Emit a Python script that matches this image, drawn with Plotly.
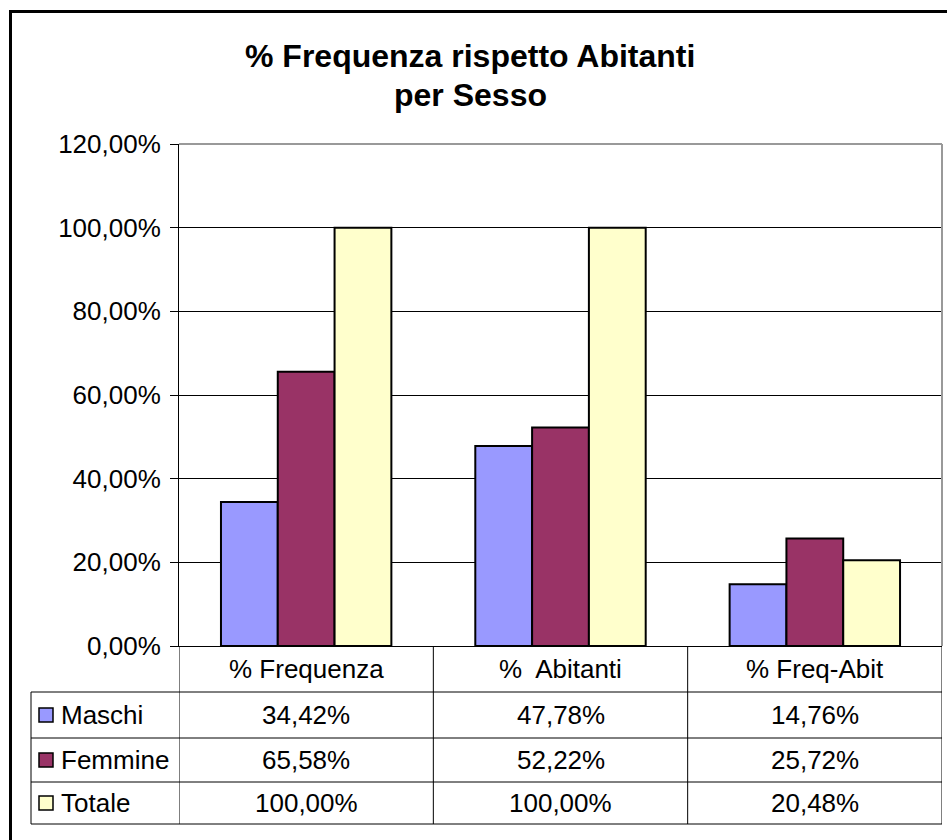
import plotly.graph_objects as go

CATEGORIES = ["% Frequenza", "%\u00a0 Abitanti", "% Freq-Abit"]
SERIES = ["Maschi", "Femmine", "Totale"]
MASCHI = [34.42, 47.78, 14.76]
FEMMINE = [65.58, 52.22, 25.72]
TOTALE = [100.00, 100.00, 20.48]
COLORS = ["#9999FF", "#993366", "#FFFFCC"]
TITLE_LINES = ["% Frequenza rispetto Abitanti", "per Sesso"]

W, H = 947, 840
L, R, T, B = 179, 942, 144, 646   # plot area in pixels
FONT = "Liberation Sans, Arial, sans-serif"

# table row edges in pixels (header row then one row per series)
ROW_EDGES = [646, 692, 738, 782, 824]
TABLE_LEFT = 31


def px_x(x):
    return (x - L) / (R - L)


def px_y(y):
    return (B - y) / (B - T)


def pct(v):
    return f"{v:.2f}".replace(".", ",") + "%"


values = [MASCHI, FEMMINE, TOTALE]

fig = go.Figure()
for name, vals, col in zip(SERIES, values, COLORS):
    fig.add_trace(go.Bar(
        x=list(range(len(CATEGORIES))), y=vals, name=name,
        marker=dict(color=col, line=dict(color="black", width=2)),
        hoverinfo="skip",
    ))

shapes = []
annotations = []

# outer chart border (right/bottom fall outside the picture)
shapes.append(dict(type="rect", xref="paper", yref="paper",
                   x0=px_x(10.5), x1=px_x(W + 20), y0=px_y(11.5), y1=px_y(H + 20),
                   line=dict(color="black", width=3), layer="below"))

# grey plot-area border on top and right
shapes.append(dict(type="line", xref="paper", yref="paper", x0=0, x1=1, y0=1, y1=1,
                   line=dict(color="#999999", width=2), layer="above"))
shapes.append(dict(type="line", xref="paper", yref="paper", x0=1, x1=1, y0=0, y1=1,
                   line=dict(color="#999999", width=2), layer="above"))

# title, two centred bold lines
for text, y in zip(TITLE_LINES, [56, 95]):
    annotations.append(dict(xref="paper", yref="paper", x=px_x(470), y=px_y(y),
                            text=f"<b>{text}</b>", showarrow=False,
                            font=dict(family=FONT, size=32, color="black"),
                            xanchor="center", yanchor="middle"))

line = dict(color="black", width=1)
n = len(CATEGORIES)
# horizontal table lines (the top one is the x axis itself)
for y in ROW_EDGES[1:]:
    shapes.append(dict(type="line", xref="paper", yref="paper",
                       x0=px_x(TABLE_LEFT), x1=1, y0=px_y(y), y1=px_y(y), line=line))
# vertical table lines
for k in range(n + 1):
    shapes.append(dict(type="line", xref="x", yref="paper",
                       x0=k - 0.5, x1=k - 0.5, y0=px_y(ROW_EDGES[0]), y1=px_y(ROW_EDGES[-1]),
                       line=line))
shapes.append(dict(type="line", xref="paper", yref="paper",
                   x0=px_x(TABLE_LEFT), x1=px_x(TABLE_LEFT),
                   y0=px_y(ROW_EDGES[1]), y1=px_y(ROW_EDGES[-1]), line=line))

cell_font = dict(family=FONT, size=26, color="black")
# header row: category names
for k, cat in enumerate(CATEGORIES):
    annotations.append(dict(xref="x", yref="paper", x=k,
                            y=px_y((ROW_EDGES[0] + ROW_EDGES[1]) / 2),
                            text=cat, showarrow=False, font=cell_font,
                            xanchor="center", yanchor="middle"))
# series rows
for r, (name, vals, col) in enumerate(zip(SERIES, values, COLORS)):
    yc = (ROW_EDGES[r + 1] + ROW_EDGES[r + 2]) / 2
    shapes.append(dict(type="rect", xref="paper", yref="paper",
                       x0=px_x(39), x1=px_x(53), y0=px_y(yc - 7), y1=px_y(yc + 7),
                       fillcolor=col, line=dict(color="black", width=1.5)))
    annotations.append(dict(xref="paper", yref="paper", x=px_x(59), y=px_y(yc),
                            text=name, showarrow=False, font=cell_font,
                            xanchor="left", yanchor="middle"))
    for k, v in enumerate(vals):
        annotations.append(dict(xref="x", yref="paper", x=k, y=px_y(yc),
                                text=pct(v), showarrow=False, font=cell_font,
                                xanchor="center", yanchor="middle"))

fig.update_layout(
    width=W, height=H, autosize=False,
    margin=dict(l=L, r=W - R, t=T, b=H - B),
    paper_bgcolor="white", plot_bgcolor="white",
    separators=",.",
    barmode="group", bargap=0.33, bargroupgap=0,
    showlegend=False,
    font=dict(family=FONT, color="black"),
    shapes=shapes, annotations=annotations,
)
fig.update_xaxes(range=[-0.5, n - 0.5], showticklabels=False, showgrid=False,
                 showline=True, linecolor="black", linewidth=1, zeroline=False,
                 fixedrange=True)
fig.update_yaxes(range=[0, 120], dtick=20, tickformat=".2f", ticksuffix="%",
                 showgrid=True, gridcolor="black", gridwidth=1,
                 showline=True, linecolor="black", linewidth=1,
                 ticks="outside", ticklen=8, tickcolor="black", zeroline=False,
                 ticklabelstandoff=4,
                 tickfont=dict(family=FONT, size=26, color="black"),
                 fixedrange=True)

# page body has an 8px default margin; remove it so pixel positions line up
fig.write_html("out.html", config={"displayModeBar": False},
               post_script="document.body.style.margin='0';")
